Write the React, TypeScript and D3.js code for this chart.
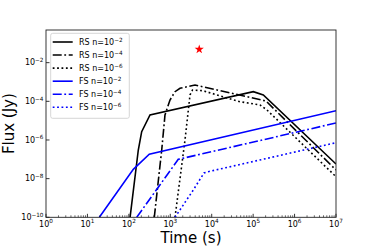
import React from "react";
import * as d3 from "d3";

// ---- data (time in s, flux in Jy) ----
const rsN2T = [107, 169, 204, 324, 1.01e5, 1.76e5, 1e7];
const rsN2F = [1e-10, 3.03e-7, 2.68e-6, 1.96e-5, 3.15e-4, 2.12e-4, 5.71e-8];

const rsN4T = [411, 621, 745, 984, 1300, 1715, 3950, 2.04e5, 1e7];
const rsN4F = [1e-10, 3.03e-7, 1.96e-5, 1.17e-4, 3.15e-4, 4.72e-4, 6.98e-4, 1.04e-4, 2.8e-8];

const rsN6T = [1300, 2265, 2992, 3436, 6160, 4.82e4, 1.46e5, 2.16e5, 1e7];
const rsN6F = [1e-10, 1.0e-6, 2.12e-4, 3.85e-4, 3.54e-4, 9.55e-5, 6.46e-5, 3.56e-5, 1.26e-8];

const fsN2T = [19.4, 128, 311, 1e7];
const fsN2F = [1e-10, 3.04e-8, 1.82e-7, 3.27e-5];

const fsN4T = [155, 1560, 1e7];
const fsN4F = [1e-10, 1.0e-7, 7.55e-6];

const fsN6T = [1300, 3590, 6510, 8260, 1e7];
const fsN6F = [1e-10, 2.58e-9, 1.96e-8, 2.29e-8, 7.23e-7];

const starT = [5000];
const starF = [0.049];

const xTickExps = [0, 1, 2, 3, 4, 5, 6, 7];
const yTickExps = [-10, -8, -6, -4, -2];

const seriesNames = ["RS", "RS", "RS", "FS", "FS", "FS"];
const seriesExps = ["−2", "−4", "−6", "−2", "−4", "−6"];

// ---- layout ----
const W = 374;
const H = 249;
const L = 46;
const R = 336;
const T = 30;
const B = 217.3;
const FONT = "DejaVu Sans, sans-serif";

const DASH_DOT = "9,2.6,1.8,2.6";
const DOT = "1.8,2.6";

export default function App() {
  const x = d3.scaleLog().domain([1, 1e7]).range([L, R]);
  const y = d3.scaleLog().domain([1e-10, Math.pow(10, -0.31)]).range([B, T]);

  const line = d3
    .line<[number, number]>()
    .x((d) => x(d[0]))
    .y((d) => y(d[1]));

  const zip = (ts: number[], fs: number[]) => ts.map((t, i) => [t, fs[i]] as [number, number]);

  const series = [
    { data: zip(rsN2T, rsN2F), color: "#000000", dash: undefined },
    { data: zip(rsN4T, rsN4F), color: "#000000", dash: DASH_DOT },
    { data: zip(rsN6T, rsN6F), color: "#000000", dash: DOT },
    { data: zip(fsN2T, fsN2F), color: "#0000ff", dash: undefined },
    { data: zip(fsN4T, fsN4F), color: "#0000ff", dash: DASH_DOT },
    { data: zip(fsN6T, fsN6F), color: "#0000ff", dash: DOT },
  ];

  // minor x ticks
  const minorX: number[] = [];
  for (let e = 0; e < 7; e++) {
    for (let k = 2; k <= 9; k++) minorX.push(k * Math.pow(10, e));
  }

  const star = d3.symbol().type(d3.symbolStar).size(26)();

  const legX = 50.7;
  const legY = 33.3;
  const legW = 78.6;
  const legH = 85;
  const rowY0 = 42;
  const rowDy = 13.06;

  return (
    <svg
      width={W}
      height={H}
      style={{ position: "fixed", left: 0, top: 0, background: "#fff" }}
      fontFamily={FONT}
    >
      <defs>
        <clipPath id="plotclip">
          <rect x={L} y={T} width={R - L} height={B - T} />
        </clipPath>
      </defs>
      <rect x={0} y={0} width={W} height={H} fill="#fff" />

      {/* series */}
      <g clipPath="url(#plotclip)">
        {series.map((s, i) => (
          <path
            key={i}
            d={line(s.data) || ""}
            fill="none"
            stroke={s.color}
            strokeWidth={1.6}
            strokeDasharray={s.dash}
          />
        ))}
        {starT.map((t, i) => (
          <path key={"s" + i} d={star || ""} transform={`translate(${x(t)},${y(starF[i])})`} fill="#ff0000" />
        ))}
      </g>

      {/* x ticks */}
      {minorX.map((v, i) => (
        <line key={"mx" + i} x1={x(v)} x2={x(v)} y1={B} y2={B - 2} stroke="#000" strokeWidth={0.6} />
      ))}
      {xTickExps.map((e) => (
        <g key={"xt" + e}>
          <line x1={x(Math.pow(10, e))} x2={x(Math.pow(10, e))} y1={B} y2={B - 3.5} stroke="#000" strokeWidth={0.8} />
          <text x={x(Math.pow(10, e))} y={226.5} fontSize={8} textAnchor="middle" fill="#000">
            10
            <tspan fontSize={5.7} dy={-3.4}>
              {String(e)}
            </tspan>
          </text>
        </g>
      ))}

      {/* y ticks */}
      {yTickExps.map((e) => (
        <g key={"yt" + e}>
          <line x1={L} x2={L + 3.5} y1={y(Math.pow(10, e))} y2={y(Math.pow(10, e))} stroke="#000" strokeWidth={0.8} />
          <text x={43.5} y={y(Math.pow(10, e)) + 2.8} fontSize={8} textAnchor="end" fill="#000">
            10
            <tspan fontSize={5.7} dy={-3.4}>
              {"−" + String(-e)}
            </tspan>
          </text>
        </g>
      ))}

      {/* frame */}
      <rect x={L} y={T} width={R - L} height={B - T} fill="none" stroke="#222" strokeWidth={0.9} />

      {/* axis labels */}
      <text x={(L + R) / 2} y={243} fontSize={15} textAnchor="middle" fill="#000">
        Time (s)
      </text>
      <text
        transform={`translate(${14},${(T + B) / 2}) rotate(-90)`}
        fontSize={15}
        textAnchor="middle"
        fill="#000"
      >
        Flux (Jy)
      </text>

      {/* legend */}
      <rect
        x={legX}
        y={legY}
        width={legW}
        height={legH}
        rx={2}
        fill="#fff"
        fillOpacity={0.8}
        stroke="#cccccc"
        strokeWidth={0.8}
      />
      {series.map((s, i) => {
        const ry = rowY0 + i * rowDy;
        return (
          <g key={"lg" + i}>
            <line
              x1={52.7}
              x2={72.7}
              y1={ry}
              y2={ry}
              stroke={s.color}
              strokeWidth={1.6}
              strokeDasharray={s.dash}
            />
            <text x={79} y={ry + 2.9} fontSize={8} fill="#000">
              {seriesNames[i] + " n=10"}
              <tspan fontSize={5.7} dy={-3.4}>
                {seriesExps[i]}
              </tspan>
            </text>
          </g>
        );
      })}
    </svg>
  );
}
